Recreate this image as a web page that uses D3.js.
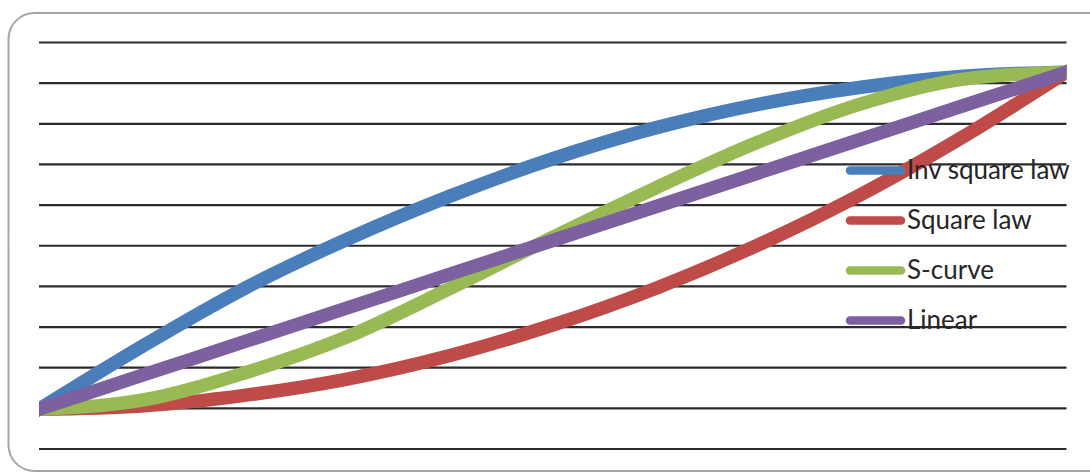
<!DOCTYPE html>
<html lang="en">
<head>
<meta charset="utf-8">
<title>Curves</title>
<script src="https://d3js.org/d3.v7.min.js"></script>
<style>
    body { margin: 0; background: #fff; }
    svg { display: block; }
    .legend text {
        font-family: "Lato", "Open Sans", sans-serif;
        font-size: 26px;
        fill: #262626;
    }
</style>
</head>
<body>
<div id="chart"></div>
<script>

//____________________________DATA____________________________

// sample positions along x (0..10) and gridline values on y (0..10)
var xSteps = [0, 1, 2, 3, 4, 5, 6, 7, 8, 9, 10];
var gridTicks = [0, 1, 2, 3, 4, 5, 6, 7, 8, 9, 10];

var seriesNames = ["Inv square law", "Square law", "S-curve", "Linear"];
var seriesColors = ["#4a7ebb", "#be4b48", "#98b954", "#7d60a0"];

// values, in gridline units
var invSquare = [0.98, 2.52, 3.95, 5.16, 6.22, 7.14, 7.90, 8.48, 8.90, 9.17, 9.27];
var squareLaw = [0.98, 1.06, 1.32, 1.72, 2.30, 3.05, 3.95, 5.02, 6.26, 7.69, 9.27];
var sCurve    = [0.98, 1.20, 1.87, 2.76, 3.95, 5.21, 6.42, 7.55, 8.49, 9.10, 9.27];
var linear    = [0.98, 1.81, 2.64, 3.47, 4.30, 5.13, 5.96, 6.79, 7.62, 8.45, 9.27];

var seriesValues = [invSquare, squareLaw, sCurve, linear];

//____________________________SVG____________________________

var width = 1090;
var height = 474;

var svg = d3.select("#chart")
    .append("svg")
    .attr("width", width)
    .attr("height", height);

// rounded frame, runs off the right edge
svg.append("rect")
    .attr("x", 8.5)
    .attr("y", 13)
    .attr("width", 1110)
    .attr("height", 458)
    .attr("rx", 26)
    .attr("fill", "none")
    .attr("stroke", "#a6a6a6")
    .attr("stroke-width", 2);

var x = d3.scaleLinear().domain([0, 10]).range([39, 1066.5]);
var y = d3.scaleLinear().domain([0, 10]).range([449, 42.5]);

// gridlines
svg.append("g")
    .selectAll("line")
    .data(gridTicks)
    .enter()
    .append("line")
    .attr("x1", x(0))
    .attr("x2", x(10))
    .attr("y1", function(d) { return y(d); })
    .attr("y2", function(d) { return y(d); })
    .attr("stroke", "#2b2b2b")
    .attr("stroke-width", 2.2);

svg.append("clipPath")
    .attr("id", "plotclip")
    .append("rect")
    .attr("x", x(0))
    .attr("y", 0)
    .attr("width", x(10) - x(0))
    .attr("height", height);

var line = d3.line()
    .x(function(d, i) { return x(xSteps[i]); })
    .y(function(d) { return y(d); })
    .curve(d3.curveMonotoneX);

svg.append("g")
    .attr("clip-path", "url(#plotclip)")
    .selectAll("path")
    .data(seriesValues)
    .enter()
    .append("path")
    .attr("d", line)
    .attr("fill", "none")
    .attr("stroke", function(d, i) { return seriesColors[i]; })
    .attr("stroke-width", 13.5)
    .attr("stroke-linejoin", "round")
    .attr("stroke-linecap", "square");

//____________________________LEGEND____________________________

var legend = svg.append("g")
    .attr("class", "legend")
    .selectAll("g")
    .data(seriesNames)
    .enter()
    .append("g")
    .attr("transform", function(d, i) { return "translate(0," + (170.5 + i * 50) + ")"; });

legend.append("line")
    .attr("x1", 850)
    .attr("x2", 901)
    .attr("stroke", function(d, i) { return seriesColors[i]; })
    .attr("stroke-width", 8.5)
    .attr("stroke-linecap", "round");

legend.append("text")
    .attr("x", 907)
    .attr("y", 8.5)
    .text(function(d) { return d; });

</script>
</body>
</html>
